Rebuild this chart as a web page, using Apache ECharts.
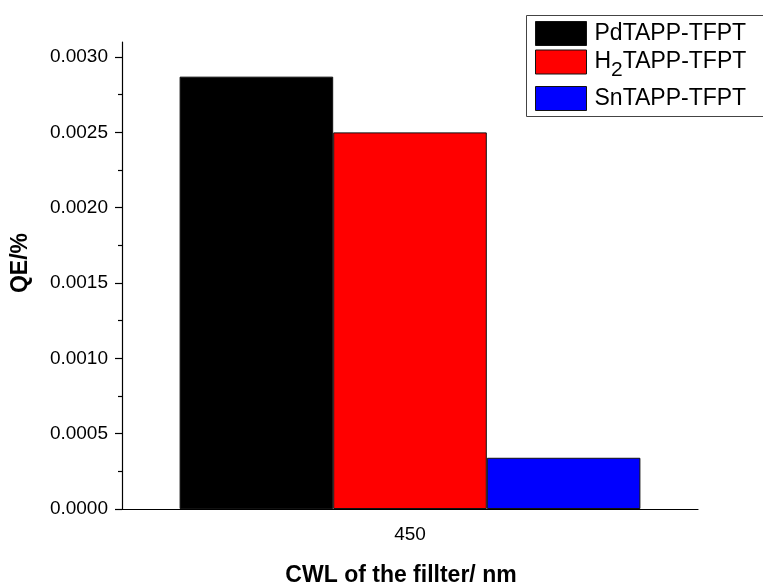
<!DOCTYPE html>
<html>
<head>
<meta charset="utf-8">
<script src="https://cdn.jsdelivr.net/npm/echarts@6/dist/echarts.min.js"></script>
<style>
  html, body { margin: 0; padding: 0; background: #fff; }
  #chart { width: 763px; height: 588px; }
</style>
</head>
<body>
<div id="chart"></div>
<script>
// Filter centre wavelength (nm)
const categories = ['450'];
// Quantum efficiency (%) per photocatalyst
const seriesNames = ['PdTAPP-TFPT', 'H2TAPP-TFPT', 'SnTAPP-TFPT'];
const pdValues = [0.00287];
const h2Values = [0.00250];
const snValues = [0.00034];
const seriesColors = ['#000000', '#ff0000', '#0000ff'];
// Y axis ticks
const majorTicks = [0, 0.0005, 0.0010, 0.0015, 0.0020, 0.0025, 0.0030];
const minorTicks = [0.00025, 0.00075, 0.00125, 0.00175, 0.00225, 0.00275];

const FONT = 'Liberation Sans, Arial, sans-serif';
const chart = echarts.init(document.getElementById('chart'), null, { renderer: 'canvas' });

const seriesData = [pdValues, h2Values, snValues];

// One legend entry per component so each row sits where it should
function legendFor(name, top) {
  return {
    data: [{ name: name, icon: 'rect' }],
    orient: 'vertical',
    left: 535,
    top: top,
    padding: 0,
    itemWidth: 51,
    itemHeight: 24,
    itemGap: 0,
    itemStyle: { borderColor: '#111', borderWidth: 1 },
    selectedMode: false,
    textStyle: {
      fontFamily: FONT, fontSize: 23, color: '#000', padding: [0, 0, 0, 3],
      rich: {
        n: { fontFamily: FONT, fontSize: 23, color: '#000', lineHeight: 24 },
        sub: { fontFamily: FONT, fontSize: 21, color: '#000', lineHeight: 24, padding: [17, 0, 0, 0] }
      }
    },
    formatter: function (n) {
      return n === 'H2TAPP-TFPT' ? '{n|H}{sub|2}{n|TAPP-TFPT}' : n;
    }
  };
}

const option = {
  animation: false,
  backgroundColor: '#fff',
  grid: { left: 122, right: 65, top: 42, bottom: 79, containLabel: false },
  xAxis: {
    type: 'category',
    data: categories,
    axisLine: { lineStyle: { color: '#000', width: 1.2 } },
    axisTick: { alignWithLabel: true, length: 7, lineStyle: { color: '#000', width: 1.2 } },
    axisLabel: { fontFamily: FONT, fontSize: 19, color: '#000', margin: 16 },
    splitLine: { show: false }
  },
  yAxis: [
    {
      type: 'value',
      min: 0,
      max: 0.0031,
      axisLine: { show: true, lineStyle: { color: '#000', width: 1.2 } },
      axisTick: { show: true, length: 7, customValues: majorTicks, lineStyle: { color: '#000', width: 1.2 } },
      axisLabel: {
        fontFamily: FONT, fontSize: 19, color: '#000', margin: 14,
        customValues: majorTicks,
        formatter: function (v) { return v.toFixed(4); }
      },
      splitLine: { show: false }
    },
    {
      type: 'value',
      min: 0,
      max: 0.0031,
      position: 'left',
      axisLine: { show: false },
      axisTick: { show: true, length: 4, customValues: minorTicks, lineStyle: { color: '#000', width: 1.2 } },
      axisLabel: { show: false },
      splitLine: { show: false }
    }
  ],
  legend: [
    legendFor(seriesNames[0], 21),
    legendFor(seriesNames[1], 43),
    legendFor(seriesNames[2], 86)
  ],
  series: seriesNames.map(function (name, i) {
    return {
      name: name,
      type: 'bar',
      data: seriesData[i],
      barGap: '0%',
      barCategoryGap: '20%',
      itemStyle: { color: seriesColors[i], borderColor: '#111', borderWidth: 1 }
    };
  }),
  graphic: [
    {
      type: 'rect',
      shape: { x: 526.5, y: 15.5, width: 260, height: 101 },
      style: { fill: 'none', stroke: '#444', lineWidth: 1 },
      z: 0
    },
    {
      type: 'text',
      x: 21, y: 263,
      rotation: Math.PI / 2,
      style: {
        text: 'QE/%', fontFamily: FONT, fontSize: 23, fontWeight: 'bold',
        fill: '#000', align: 'center', verticalAlign: 'middle'
      }
    },
    {
      type: 'text',
      x: 401, y: 576,
      style: {
        text: 'CWL of the fillter/ nm', fontFamily: FONT, fontSize: 23, fontWeight: 'bold',
        fill: '#000', align: 'center', verticalAlign: 'middle'
      }
    }
  ]
};

chart.setOption(option);
</script>
</body>
</html>
